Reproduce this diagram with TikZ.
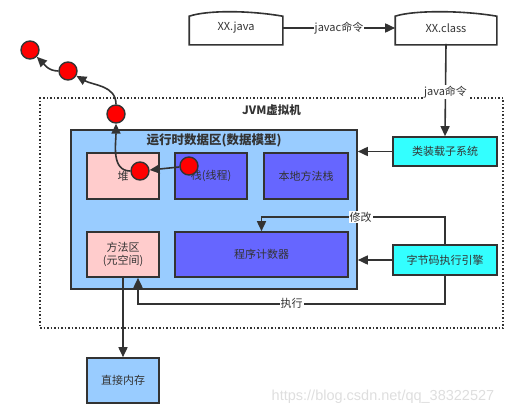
\documentclass[tikz,border=0pt]{standalone}
\usepackage{fontspec}
\setmainfont{Noto Sans CJK SC}
\newfontfamily\wmfont{Liberation Sans}
\usetikzlibrary{arrows.meta, positioning}

\definecolor{areablue}{HTML}{99CCFF}
\definecolor{heappink}{HTML}{FFCCCC}
\definecolor{stackblue}{HTML}{6666FF}
\definecolor{subcyan}{HTML}{33FFFF}
\definecolor{linegray}{HTML}{333333}

\begin{document}
\begin{tikzpicture}[
            x = 1pt, y = 1pt, % one unit = one pixel of the sketch
            > = {Triangle[length=10pt, width=9pt]}, % arrow head style
            line width = 1.6pt,
            color = linegray,
            every node/.style = {font=\fontsize{11}{13}\selectfont, align=center}
            , box/.style = {draw, line width=1.6pt, inner sep=0pt} % plain boxes
            , file/.style = {inner sep=0pt, minimum width=#1, minimum height=30pt}
            , ball/.style = {circle, fill=red, draw, line width=1.4pt, minimum size=18pt, inner sep=0pt}
            , lbl/.style = {fill=white, inner sep=1pt}
        ]

        \useasboundingbox (0,0) rectangle (514,-415);

        % source files
        \node[file=92pt] (java) at (236,-28) {XX.java};
        \node[file=100pt] (class) at (446,-28) {XX.class};
        \foreach \f in {java, class}
            \draw ([yshift=-1pt]\f.south west) -- ([yshift=-4pt]\f.north west)
                .. controls ([xshift=18pt, yshift=2pt]\f.north west) and ([xshift=-35pt, yshift=2pt]\f.north east)
                .. ([yshift=-4pt]\f.north east) -- ([yshift=-1pt]\f.south east) -- cycle;

        % JVM
        \node[box, dash pattern=on 1.5pt off 2pt, minimum width=463pt, minimum height=230pt] (jvm) at (271.5,-213) {};
        \node[font=\fontsize{11.5}{13}\selectfont\bfseries, below=3pt of jvm.north] (jvmname) {JVM虚拟机};

        \node[box, fill=areablue, minimum width=286pt, minimum height=159pt] (rda) at (214,-209.5) {};
        \node[font=\fontsize{12.5}{14}\selectfont\bfseries, below=0.5pt of rda.north] (rdaname) {运行时数据区(数据模型)};

        \node[box, fill=heappink, minimum width=72pt, minimum height=46pt] (heap) at (123,-176) {堆};
        \node[box, fill=stackblue, minimum width=72pt, minimum height=46pt] (stack) at (211,-176) {栈(线程)};
        \node[box, fill=stackblue, minimum width=84pt, minimum height=46pt] (native) at (306,-176) {本地方法栈};
        \node[box, fill=heappink, minimum width=72pt, minimum height=45pt] (method) at (123,-254.5) {方法区\\(元空间)};
        \node[box, fill=stackblue, minimum width=173pt, minimum height=45pt] (pc) at (261.5,-254.5) {程序计数器};

        \node[box, fill=subcyan, minimum width=104pt, minimum height=29pt] (loader) at (445,-151.5) {类装载子系统};
        \node[box, fill=subcyan, minimum width=104pt, minimum height=30pt] (engine) at (445,-260) {字节码执行引擎};

        \node[box, fill=areablue, minimum width=72pt, minimum height=45pt] (direct) at (123,-380.5) {直接内存};

        % objects
        \node[ball] (sc) at (189,-166) {};
        \node[ball] (hc) at (140,-171) {};
        \node[ball] (oa) at (116,-114) {};
        \node[ball] (ob) at (68,-71) {};
        \node[ball] (oc) at (30,-50) {};

        \path[->] (java.east) edge node[lbl] {javac命令} (class.west);
        \path[->] (class.south) edge node[lbl, pos=0.52] {java命令} (loader.north);
        \draw[->] (loader.west) -- (loader.west -| rda.east);
        \draw[->] (engine.west) -- (engine.west -| rda.east);
        \draw[->] (engine.north) |- ([yshift=14pt]pc.north) node[lbl, pos=0.73] {修改} -- (pc.north);
        \draw[->] (engine.south) |- ([xshift=15pt, yshift=-26pt]method.south) node[lbl, pos=0.75] {执行} -- ([xshift=15pt]method.south);
        \draw[->] (method.south) -- (direct.north);

        \draw[->] (sc) -- (hc);
        \draw[->] (hc.west) to[out=180, in=-90] (oa.south);
        \draw[->] (oa.north) to[out=90, in=-30] (ob);
        \draw[->] (ob.west) to[out=180, in=-45] (oc);

        \node[text=black!13, font=\wmfont\fontsize{14.5}{16}\selectfont] (mark) at (383,-397) {https://blog.csdn.net/qq\_38322527};

    \end{tikzpicture}
\end{document}
